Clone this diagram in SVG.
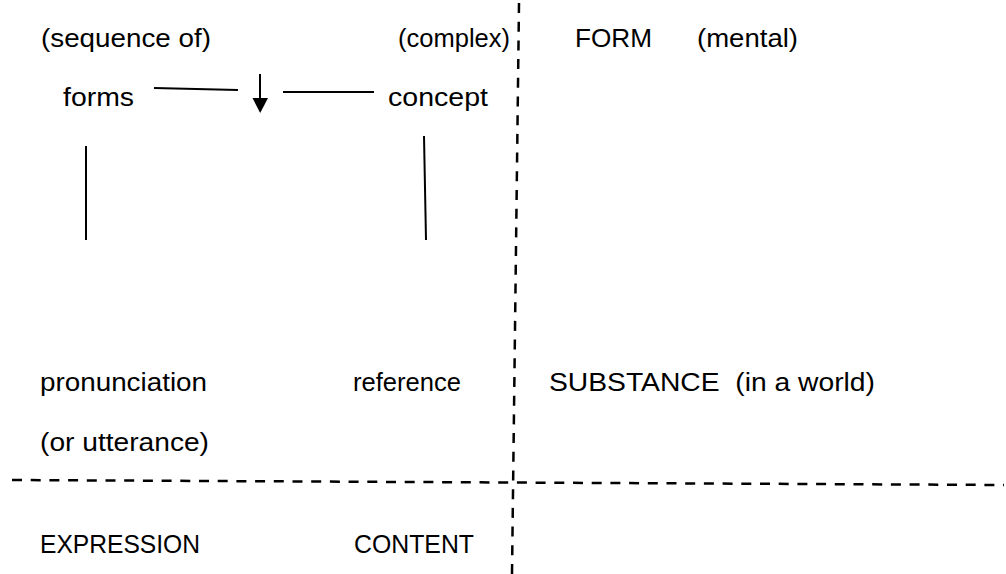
<svg xmlns="http://www.w3.org/2000/svg" width="1006" height="574" viewBox="0 0 1006 574">
<style>
text{font-family:"Liberation Sans",Arial,sans-serif;font-size:26.5px;fill:#000}
.ln{stroke:#000;stroke-width:2;fill:none}
.dash{stroke:#000;stroke-width:2.5;fill:none;stroke-dasharray:10 8.7}
</style>
<g id="labels">
<text x="41" y="47" textLength="170" lengthAdjust="spacingAndGlyphs">(sequence of)</text>
<text x="398" y="47" textLength="112" lengthAdjust="spacingAndGlyphs">(complex)</text>
<text x="575" y="47" textLength="77" lengthAdjust="spacingAndGlyphs">FORM</text>
<text x="697" y="47" textLength="101" lengthAdjust="spacingAndGlyphs">(mental)</text>
<text x="63" y="106" textLength="71" lengthAdjust="spacingAndGlyphs">forms</text>
<text x="388" y="106" textLength="100" lengthAdjust="spacingAndGlyphs">concept</text>
<text x="40" y="391" textLength="167" lengthAdjust="spacingAndGlyphs">pronunciation</text>
<text x="353" y="391" textLength="108" lengthAdjust="spacingAndGlyphs">reference</text>
<text x="549" y="391" xml:space="preserve" textLength="326" lengthAdjust="spacingAndGlyphs">SUBSTANCE  (in a world)</text>
<text x="40" y="451" textLength="169" lengthAdjust="spacingAndGlyphs">(or utterance)</text>
<text x="40" y="553" textLength="160" lengthAdjust="spacingAndGlyphs">EXPRESSION</text>
<text x="354" y="553" textLength="120" lengthAdjust="spacingAndGlyphs">CONTENT</text>
</g>
<g id="connectors">
<line class="ln" x1="154" y1="88" x2="238" y2="90"/>
<line class="ln" x1="283" y1="92" x2="374" y2="92"/>
<line class="ln" x1="260" y1="74" x2="260" y2="98"/>
<path d="M252.5,98 L268,98 L260.2,113 Z" fill="#000"/>
<line class="ln" x1="86" y1="146" x2="86" y2="240"/>
<line class="ln" x1="424" y1="136" x2="426" y2="240"/>
<line class="dash" x1="12" y1="480" x2="1004" y2="485"/>
<line class="dash" x1="519" y1="3" x2="512" y2="574"/>
</g>
</svg>
